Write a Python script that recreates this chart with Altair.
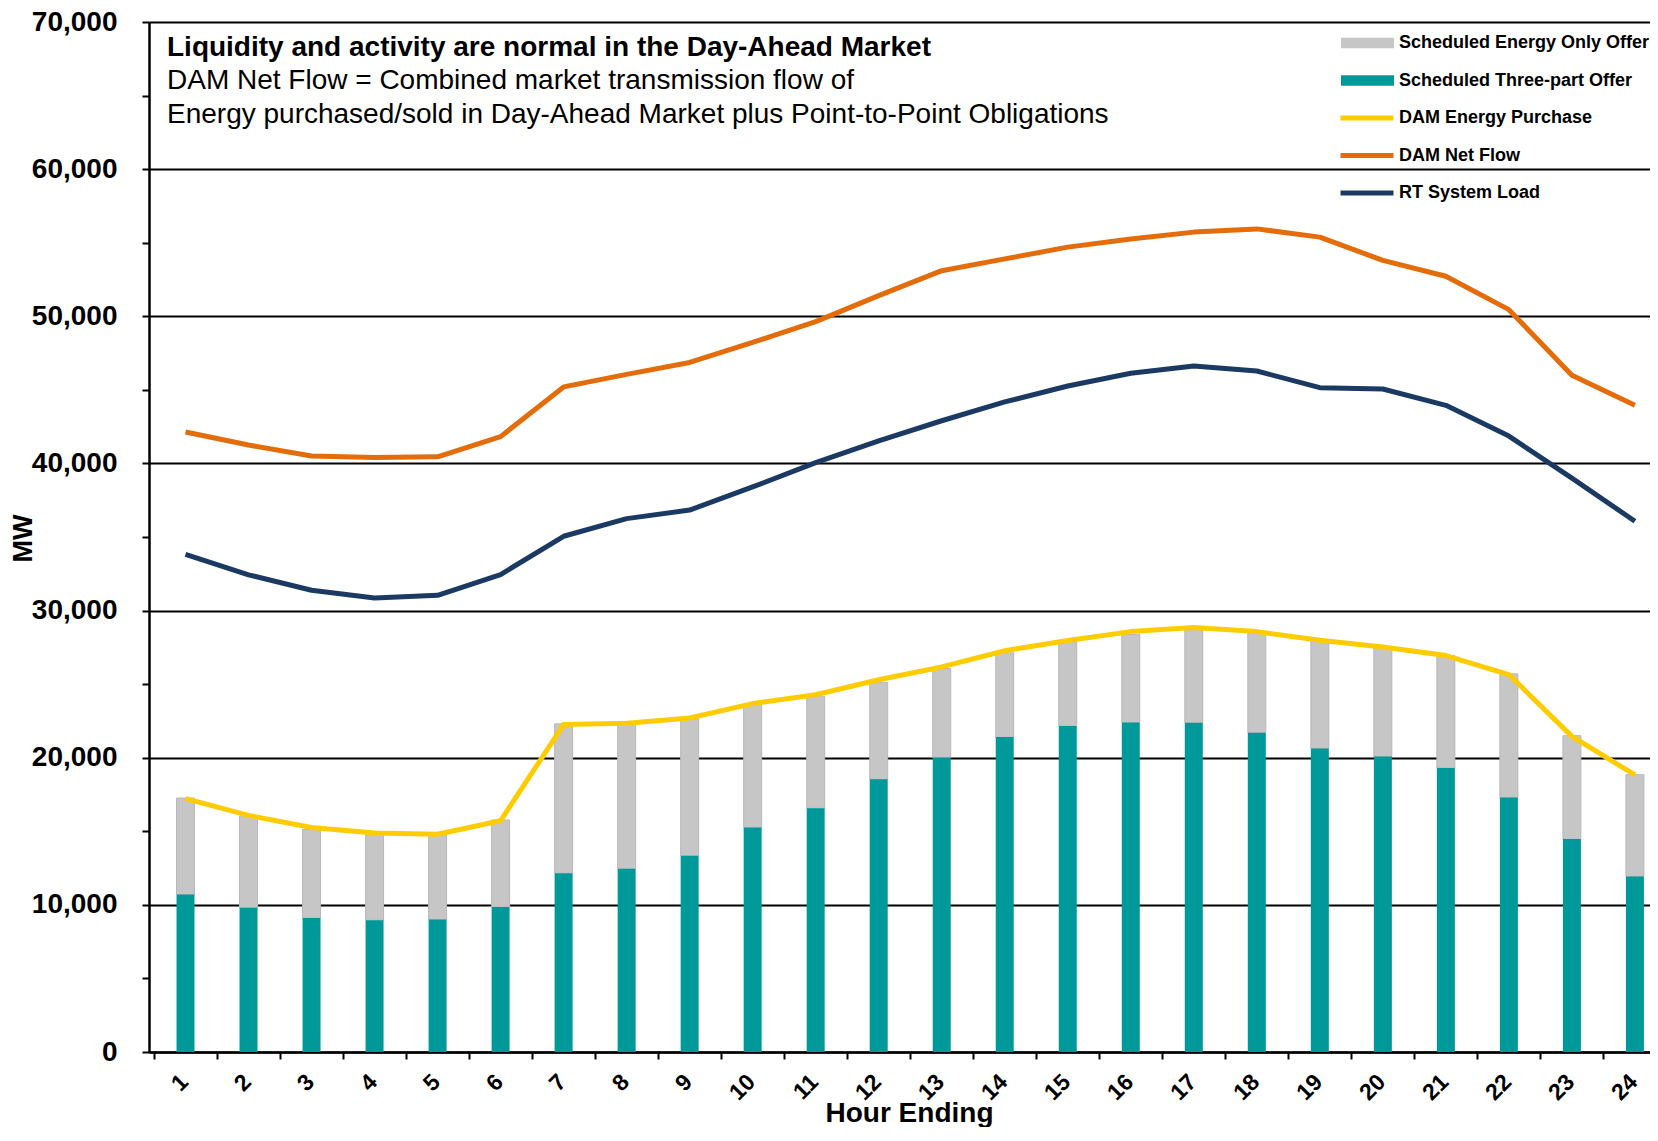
import altair as alt
import pandas as pd

# ---------------- data ----------------
hours = list(range(1, 25))
three_part_offer = [10700, 9800, 9100, 8950, 9000, 9850, 12150, 12450, 13330, 15250, 16560, 18530,
                    20010, 21400, 22150, 22400, 22370, 21700, 20620, 20080, 19300, 17290, 14470, 11930]
energy_only_offer = [6560, 6230, 6020, 5810, 5760, 5920, 10150, 9810, 9310, 8350, 7620, 6590,
                     6050, 5730, 5720, 5980, 6320, 6770, 7280, 7400, 7650, 8410, 7030, 6920]
dam_energy_purchase = [17220, 16080, 15260, 14880, 14800, 15720, 22250, 22340, 22700, 23680, 24280, 25300,
                       26170, 27270, 27970, 28570, 28850, 28570, 27980, 27530, 26940, 25650, 21450, 18830]
dam_net_flow = [42140, 41250, 40500, 40400, 40450, 41820, 45200, 46050, 46860, 48230, 49640, 51400,
                53100, 53900, 54700, 55250, 55720, 55940, 55380, 53800, 52720, 50450, 46000, 43950]
rt_system_load = [33820, 32430, 31380, 30850, 31040, 32450, 35050, 36250, 36830, 38400, 40050, 41540,
                  42900, 44180, 45260, 46130, 46620, 46280, 45150, 45060, 43950, 41860, 39000, 36070]

bar_series = ["Scheduled Energy Only Offer", "Scheduled Three-part Offer"]
bar_colors = ["#C6C6C6", "#009999"]
line_series = ["DAM Energy Purchase", "DAM Net Flow", "RT System Load"]
line_colors = ["#FFCC00", "#E46C0A", "#1B3A63"]

title_text = "Liquidity and activity are normal in the Day-Ahead Market"
subtitle_text = ["DAM Net Flow = Combined market transmission flow of",
                 "Energy purchased/sold in Day-Ahead Market plus Point-to-Point Obligations"]
y_ticks = list(range(0, 70001, 5000))
x_ticks = [h - 0.5 for h in hours]

# ---------------- tables ----------------
totals = [a + b for a, b in zip(three_part_offer, energy_only_offer)]
grey_df = pd.DataFrame({"hour": hours, "series": bar_series[0], "low": three_part_offer, "high": totals})
teal_df = pd.DataFrame({"hour": hours, "series": bar_series[1], "low": [0] * 24, "high": three_part_offer})
lines_df = pd.concat([
    pd.DataFrame({"hour": hours, "series": name, "value": vals})
    for name, vals in zip(line_series, [dam_energy_purchase, dam_net_flow, rt_system_load])
])

FONT = "Liberation Sans"

x_axis = alt.Axis(
    values=x_ticks, labelExpr="datum.value + 0.5", labelAngle=-45, labelAlign="right",
    labelBaseline="middle", labelOffset=30, labelPadding=19, labelFont=FONT, labelFontSize=23,
    labelFontWeight="bold", labelColor="black", tickSize=7, tickWidth=2, tickColor="black",
    domainColor="black", domainWidth=2.5, grid=False, title="Hour Ending", titleFont=FONT,
    titleFontSize=28, titleFontWeight="bold", titleColor="black", titleX=760, titleY=69,
    titleBaseline="alphabetic", titleAlign="center", labelFlush=False, labelOverlap=False,
)
y_axis = alt.Axis(
    values=y_ticks, labelExpr="datum.value % 10000 == 0 ? format(datum.value, ',') : ''",
    labelFont=FONT, labelFontSize=28, labelFontWeight="bold", labelColor="black", labelPadding=25,
    tickSize=7, tickWidth=2, tickColor="black", domainColor="black", domainWidth=2.5,
    grid=True, gridColor="black", gridWidth=2,
    gridOpacity={"condition": {"test": "datum.value % 10000 != 0", "value": 0}, "value": 1},
    title="MW", titleFont=FONT, titleFontSize=27, titleFontWeight="bold", titleColor="black",
    titleAngle=-90, titleX=-126, titleY=516, titleAlign="center", titleBaseline="middle",
    labelFlush=False, labelOverlap=False,
)

x_scale = alt.Scale(domain=[0.5, 24.16], nice=False, zero=False)
y_scale = alt.Scale(domain=[0, 70000], nice=False)

fill_enc = alt.Fill(
    "series:N", scale=alt.Scale(domain=bar_series, range=bar_colors),
    legend=alt.Legend(
        title=None, orient="none", legendX=1192, legendY=6, padding=0,
        symbolType="M-1,-0.2H1V0.2H-1Z", symbolSize=2809, symbolStrokeWidth=0, symbolOpacity=1,
        labelFont=FONT, labelFontSize=18, labelFontWeight="bold", labelColor="black",
        labelOffset=5, labelLimit=400, clipHeight=30, rowPadding=7.5,
    ),
)
stroke_enc = alt.Stroke(
    "series:N", scale=alt.Scale(domain=line_series, range=line_colors),
    legend=alt.Legend(
        title=None, orient="none", legendX=1189, legendY=81, padding=0,
        symbolType="stroke", symbolSize=2809, symbolStrokeWidth=5,
        labelFont=FONT, labelFontSize=18, labelFontWeight="bold", labelColor="black",
        labelOffset=3, labelLimit=400, clipHeight=30, rowPadding=7.5,
    ),
)

grey_bars = alt.Chart(grey_df).mark_bar(size=18, stroke="#B8B8B8", strokeWidth=1).encode(
    x=alt.X("hour:Q", scale=x_scale, axis=x_axis),
    y=alt.Y("low:Q", scale=y_scale, axis=y_axis),
    y2="high:Q",
    fill=fill_enc,
)
teal_bars = alt.Chart(teal_df).mark_bar(size=18).encode(
    x=alt.X("hour:Q", scale=x_scale, axis=x_axis),
    y=alt.Y("low:Q", scale=y_scale, axis=y_axis),
    y2="high:Q",
    fill=fill_enc,
)
lines = alt.Chart(lines_df).mark_line(strokeWidth=5, strokeJoin="round").encode(
    x=alt.X("hour:Q", scale=x_scale, axis=x_axis),
    y=alt.Y("value:Q", scale=y_scale, axis=y_axis),
    stroke=stroke_enc,
    detail="series:N",
)

chart = alt.layer(grey_bars, teal_bars, lines).properties(
    width=1501, height=1030,
    padding={"left": 141, "top": 14, "right": 0, "bottom": 75},
    autosize=alt.AutoSizeParams(type="none"),
    title=alt.TitleParams(
        text=title_text, subtitle=subtitle_text, anchor="start", frame="group", dx=18, offset=-121,
        font=FONT, fontSize=28, fontWeight="bold", color="black",
        subtitleFont=FONT, subtitleFontSize=28, subtitleColor="black",
        subtitleLineHeight=34, subtitlePadding=5,
    ),
).configure_view(strokeWidth=0)

chart.save("out.html", embed_options={"renderer": "svg", "actions": False})
